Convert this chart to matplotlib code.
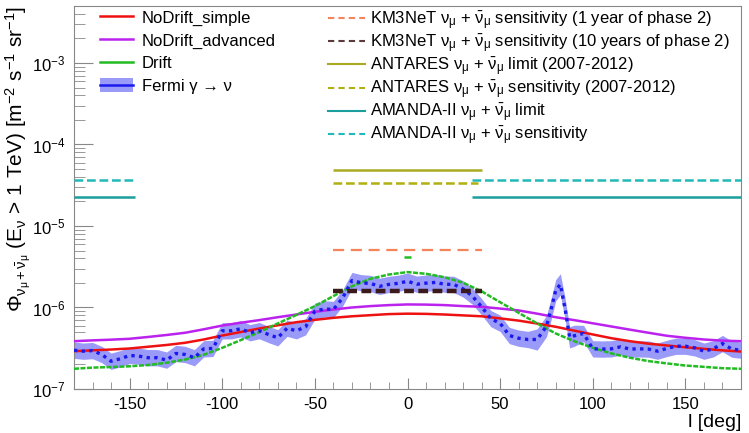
import numpy as np
import matplotlib
matplotlib.use("Agg")
import matplotlib.pyplot as plt
from matplotlib.lines import Line2D
from matplotlib.patches import Patch
from matplotlib.ticker import MultipleLocator, LogLocator

plt.rcParams['font.family'] = ['Liberation Sans', 'DejaVu Sans']
plt.rcParams['mathtext.fontset'] = 'custom'
plt.rcParams['mathtext.rm'] = 'Liberation Sans'
plt.rcParams['mathtext.it'] = 'Liberation Sans'
plt.rcParams['mathtext.bf'] = 'Liberation Sans:bold'
plt.rcParams['axes.unicode_minus'] = False

# galactic longitude grid of the model curves
l_model = [-180, -170, -160, -150, -140, -130, -120, -110, -100, -90, -80, -70, -60,
           -50, -40, -30, -20, -10, 0, 10, 20, 30, 40, 50, 60, 70, 80, 90, 100,
           110, 120, 130, 140, 150, 160, 170, 180]

# units of 1e-7 m^-2 s^-1 sr^-1
nodrift_simple = [2.91, 2.98, 3.05, 3.14, 3.30, 3.47, 3.69, 4.05, 4.53, 5.00, 5.52, 6.05,
                  6.60, 7.05, 7.47, 7.80, 8.05, 8.30, 8.40, 8.35, 8.20, 8.00, 7.80, 7.35,
                  6.90, 6.35, 5.80, 5.20, 4.67, 4.20, 3.86, 3.60, 3.42, 3.25, 3.11, 2.98, 2.88]
nodrift_advanced = [3.86, 3.95, 4.03, 4.13, 4.35, 4.60, 4.90, 5.40, 6.00, 6.50, 7.00, 7.60,
                    8.20, 8.85, 9.45, 10.0, 10.4, 10.7, 10.9, 10.85, 10.7, 10.4, 10.2, 9.7,
                    9.2, 8.4, 7.6, 7.0, 6.4, 5.85, 5.35, 4.9, 4.5, 4.25, 4.05, 3.92, 3.86]
drift = [1.77, 1.83, 1.86, 1.90, 1.97, 2.10, 2.30, 2.63, 3.20, 3.98, 4.98, 6.37, 8.10,
         10.4, 13.8, 18.2, 22.5, 25.4, 27.2, 25.9, 23.5, 20.1, 15.8, 11.6, 8.6, 6.37,
         4.80, 3.86, 3.20, 2.73, 2.42, 2.20, 2.06, 1.94, 1.87, 1.80, 1.77]
drift_peak_l = 0
drift_peak = 42.0

# Fermi gamma -> nu estimate
fermi_l = [-180, -175, -170, -165, -160, -155, -150, -145, -140, -135, -130, -125, -120,
           -115, -110, -105, -100, -95, -90, -85, -80, -75, -70, -65, -60, -55, -50, -45,
           -40, -35, -30, -25, -20, -15, -10, -5, 0, 5, 10, 15, 20, 25, 30, 35, 40, 45,
           50, 55, 60, 65, 70, 75, 77.5, 80, 82.5, 85, 87.5, 90, 95, 100, 105, 110, 115,
           120, 125, 130, 135, 140, 145, 150, 155, 160, 165, 170, 175, 180]
fermi = [2.99, 2.91, 2.96, 2.65, 2.19, 2.35, 2.58, 2.53, 2.42, 2.42, 2.26, 2.73, 2.65,
         2.42, 3.11, 3.15, 5.18, 5.18, 5.48, 4.90, 5.20, 4.66, 4.25, 5.57, 5.18, 5.80,
         9.0, 9.6, 9.45, 13.1, 21.4, 20.1, 19.7, 18.2, 19.2, 19.8, 21.0, 19.3, 19.9,
         20.3, 19.3, 19.2, 16.9, 13.8, 10.2, 7.3, 6.4, 4.53, 4.20, 4.05, 4.05, 5.9, 9.5,
         16.3, 19.2, 9.8, 4.3, 4.5, 4.8, 3.11, 3.09, 3.11, 3.29, 3.09, 3.11, 3.09, 2.91,
         3.15, 3.35, 3.35, 3.20, 2.91, 3.11, 3.61, 3.09, 2.99]
# half width of the band in decades
fermi_err = [0.10] * 50 + [0.13] * 8 + [0.10] * 18

# experimental limits / sensitivities (value, l range)
km3_1yr = 5.05e-6
km3_10yr = 1.58e-6
km3_range = [-40, 40]
antares_lim = 4.9e-5
antares_sens = 3.4e-5
antares_range = [-40, 40]
amanda_lim = 2.3e-5
amanda_sens = 3.7e-5
amanda_ranges = [[-180, -147], [35, 180]]

scale = 1e-7
c_red = '#ee1111'
c_mag = '#bb22ee'
c_green = '#22bb22'
c_band = '#9a9af8'
c_blue = '#1a1aee'
c_km1 = '#f5845a'
c_km10 = '#3a1a1a'
c_ant = '#aaaa22'
c_ant_s = '#b0b010'
c_am = '#1a9e9e'
c_am_s = '#22b8b8'

fig = plt.figure(figsize=(7.49, 4.33), dpi=100)
ax = fig.add_axes([74 / 749, 1 - 389 / 433, 667 / 749, 383 / 433])

fl = np.array(fermi_l)
fv = np.array(fermi) * scale
fe = np.array(fermi_err)
ax.fill_between(fl, fv / 10 ** fe, fv * 10 ** fe, color=c_band, lw=0, zorder=1)

ax.plot(l_model, np.array(nodrift_simple) * scale, color=c_red, lw=1.8, zorder=3)
ax.plot(l_model, np.array(nodrift_advanced) * scale, color=c_mag, lw=1.8, zorder=3)
ax.plot(l_model, np.array(drift) * scale, color=c_green, lw=1.8, ls=(0, (2, 0.6)), zorder=3)
ax.hlines(drift_peak * scale, drift_peak_l - 2, drift_peak_l + 2, color=c_green, lw=1.8, zorder=3)

ax.plot(fl, fv, color=c_blue, lw=2.4, ls=(0, (1.0, 1.3)), zorder=4)

ax.hlines(km3_1yr, *km3_range, color=c_km1, lw=1.6, linestyles=(0, (5, 3)), zorder=5)
ax.hlines(km3_10yr, *km3_range, color=c_km10, lw=3.2, linestyles=(0, (2.2, 1)), zorder=5)
ax.hlines(antares_lim, *antares_range, color=c_ant, lw=1.8, zorder=5)
ax.hlines(antares_sens, antares_range[0], antares_range[1] - 2, color=c_ant_s, lw=1.8,
          linestyles=(0, (3.5, 1.5)), zorder=5)
for r in amanda_ranges:
    ax.hlines(amanda_lim, *r, color=c_am, lw=1.8, zorder=5)
    ax.hlines(amanda_sens, *r, color=c_am_s, lw=1.8, linestyles=(0, (3.5, 1.5)), zorder=5)

ax.set_yscale('log')
ax.set_xlim(-180, 180)
ax.set_ylim(1e-7, 5e-3)

ax.xaxis.set_major_locator(MultipleLocator(50))
ax.xaxis.set_minor_locator(MultipleLocator(10))
ax.yaxis.set_major_locator(LogLocator(base=10))
ax.yaxis.set_minor_locator(LogLocator(base=10, subs=np.arange(2, 10)))
ax.tick_params(axis='both', which='both', direction='in', colors='#888888',
               labelcolor='black', labelsize=12, top=False, right=False)
ax.tick_params(axis='y', which='major', length=14, pad=6)
ax.tick_params(axis='y', which='minor', length=8)
ax.tick_params(axis='x', which='major', length=8, pad=6)
ax.tick_params(axis='x', which='minor', length=5)
for s in ax.spines.values():
    s.set_color('#888888')

ax.set_xlabel('l [deg]', fontsize=14, ha='right')
ax.xaxis.set_label_coords(1.0, -0.065)
ax.set_ylabel(r'$\Phi_{\nu_\mu + \bar{\nu}_\mu}$ (E$_\nu$ > 1 TeV) [m$^{-2}$ s$^{-1}$ sr$^{-1}$]',
              fontsize=15, ha='right', va='center')
ax.yaxis.set_label_coords(-0.084, 1.0)

nm = r'$\nu_\mu$ + $\bar{\nu}_\mu$'
h_left = [Line2D([], [], color=c_red, lw=1.8),
          Line2D([], [], color=c_mag, lw=1.8),
          Line2D([], [], color=c_green, lw=1.8),
          (Patch(facecolor=c_band, lw=0), Line2D([], [], color=c_blue, lw=1.8))]
lab_left = ['NoDrift_simple', 'NoDrift_advanced', 'Drift', 'Fermi γ → ν']
fig.legend(h_left, lab_left, loc='upper left', bbox_to_anchor=(100 / 749, 1 - 10 / 433),
           frameon=False, fontsize=12, handlelength=2.0, handletextpad=0.5,
           labelspacing=0.42, borderpad=0, borderaxespad=0, handleheight=0.9)

h_right = [Line2D([], [], color=c_km1, lw=1.5, ls=(0, (3, 2))),
           Line2D([], [], color='#5a3a3a', lw=1.5, ls=(0, (3, 2))),
           Line2D([], [], color=c_ant, lw=1.5),
           Line2D([], [], color=c_ant_s, lw=1.5, ls=(0, (3, 2))),
           Line2D([], [], color=c_am, lw=1.5),
           Line2D([], [], color=c_am_s, lw=1.5, ls=(0, (3, 2)))]
lab_right = ['KM3NeT ' + nm + ' sensitivity (1 year of phase 2)',
             'KM3NeT ' + nm + ' sensitivity (10 years of phase 2)',
             'ANTARES ' + nm + ' limit (2007-2012)',
             'ANTARES ' + nm + ' sensitivity (2007-2012)',
             'AMANDA-II ' + nm + ' limit',
             'AMANDA-II ' + nm + ' sensitivity']
fig.legend(h_right, lab_right, loc='upper left', bbox_to_anchor=(328 / 749, 1 - 9 / 433),
           frameon=False, fontsize=12, handlelength=2.2, handletextpad=0.3,
           labelspacing=0.02, borderpad=0, borderaxespad=0)

fig.savefig('out.png', dpi=100)
